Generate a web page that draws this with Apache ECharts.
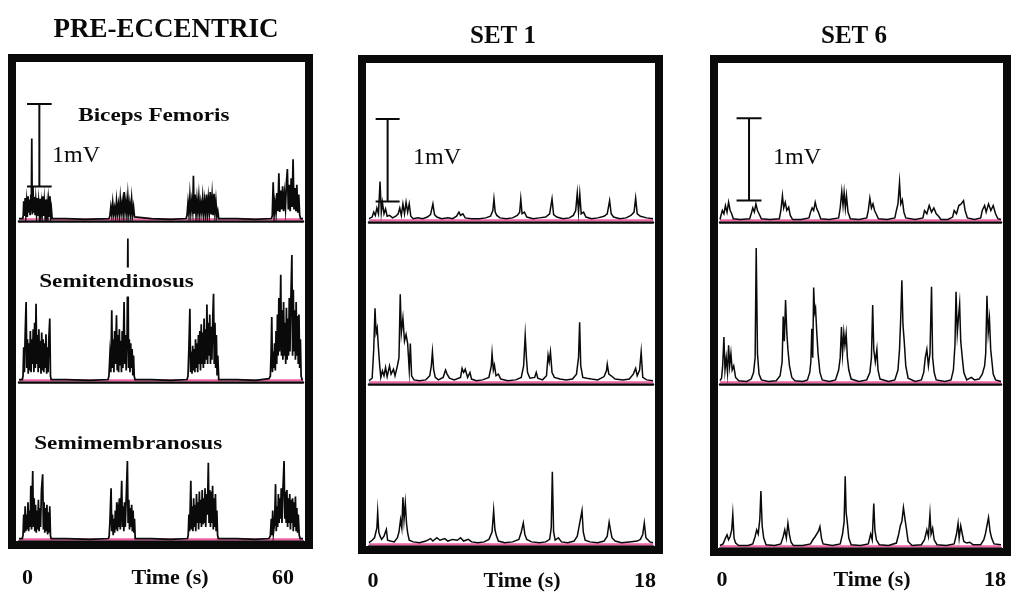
<!DOCTYPE html>
<html>
<head>
<meta charset="utf-8">
<script src="https://cdn.jsdelivr.net/npm/echarts/dist/echarts.min.js"></script>
<style>
  html, body { margin: 0; padding: 0; background: #ffffff; }
  #chart { width: 1011px; height: 593px; }
</style>
</head>
<body>
<div id="chart"></div>
<script>
// ---- Text ----
const panelTitles = ['PRE-ECCENTRIC', 'SET 1', 'SET 6'];
const muscles = ['Biceps Femoris', 'Semitendinosus', 'Semimembranosus'];
const timeTicks = [['0', '60'], ['0', '18'], ['0', '18']];
const timeAxisName = 'Time (s)';
const scaleLabel = '1mV';

// ---- Time span of each recording (s) and the calibration bar (mV) ----
const timeMax = [60, 18, 18];
const scaleBarMv = 1;

// ---- Rectified EMG traces: [time (s), amplitude (mV)] ----
// Pre-eccentric, Biceps Femoris
const pre_bf = [
  [0,0.01],[0.8,0.01],
  [0.9,0.05],[1.0,0.22],[1.15,0.04],[1.3,0.26],[1.45,0.06],[1.6,0.2],[1.75,0.03],[1.9,0.28],[2.05,0.08],[2.2,0.24],[2.35,0.05],[2.5,0.3],[2.6,0.1],[2.7,0.98],[2.8,0.06],[2.95,0.4],[3.1,0.08],[3.25,0.27],[3.4,0.05],[3.55,0.22],[3.7,0.07],[3.85,0.26],[4.0,0.04],[4.15,0.2],[4.3,0.06],[4.45,0.25],[4.6,0.05],[4.75,0.19],[4.9,0.08],[5.05,0.28],[5.2,0.04],[5.35,0.21],[5.5,0.06],[5.65,0.24],[5.8,0.05],[5.95,0.18],[6.1,0.04],[6.25,0.2],[6.4,0.03],[6.55,0.28],[6.7,0.04],[6.85,0.12],[7.0,0.01],
  [10,0.01],[14,0.0],[19.0,0.01],
  [19.2,0.04],[19.4,0.15],[19.6,0.05],[19.8,0.2],[20.0,0.06],[20.2,0.14],[20.4,0.04],[20.6,0.22],[20.8,0.07],[21.0,0.18],[21.2,0.05],[21.4,0.25],[21.6,0.08],[21.8,0.2],[22.0,0.06],[22.2,0.33],[22.4,0.09],[22.6,0.22],[22.8,0.05],[23.0,0.27],[23.2,0.07],[23.4,0.19],[23.6,0.05],[23.8,0.24],[24.0,0.06],[24.2,0.15],[24.4,0.03],[24.6,0.01],
  [28,0.01],[32,0.0],[35.3,0.01],
  [35.5,0.05],[35.7,0.2],[35.9,0.06],[36.1,0.28],[36.3,0.08],[36.5,0.22],[36.7,0.1],[36.85,0.53],[37.0,0.07],[37.2,0.3],[37.4,0.05],[37.6,0.24],[37.8,0.08],[38.0,0.27],[38.2,0.06],[38.4,0.2],[38.6,0.09],[38.8,0.26],[39.0,0.05],[39.2,0.22],[39.4,0.07],[39.6,0.3],[39.8,0.06],[40.0,0.25],[40.2,0.08],[40.4,0.33],[40.6,0.06],[40.8,0.28],[41.0,0.05],[41.2,0.31],[41.4,0.07],[41.6,0.22],[41.8,0.04],[42.0,0.1],[42.2,0.01],
  [46,0.01],[50,0.0],[53.3,0.01],
  [53.5,0.04],[53.7,0.45],[53.9,0.05],[54.1,0.2],[54.3,0.08],[54.5,0.32],[54.7,0.1],[54.9,0.56],[55.1,0.09],[55.3,0.35],[55.5,0.12],[55.7,0.4],[55.9,0.1],[56.1,0.3],[56.3,0.14],[56.5,0.45],[56.7,0.61],[56.9,0.12],[57.1,0.42],[57.3,0.1],[57.5,0.5],[57.7,0.15],[57.9,0.73],[58.1,0.12],[58.3,0.38],[58.5,0.1],[58.7,0.42],[58.9,0.08],[59.1,0.3],[59.3,0.05],[59.5,0.01],[60,0.01]
];
// Pre-eccentric, Semitendinosus
const pre_st = [
  [0,0.01],[0.7,0.01],
  [0.85,0.05],[1.0,0.4],[1.15,0.1],[1.3,0.55],[1.5,0.95],[1.65,0.15],[1.8,0.5],[1.95,0.08],[2.1,0.45],[2.25,0.12],[2.4,0.6],[2.55,0.1],[2.7,0.5],[2.85,0.2],[3.0,0.62],[3.15,0.1],[3.3,0.7],[3.45,0.15],[3.6,0.93],[3.75,0.2],[3.9,0.55],[4.05,0.1],[4.2,0.62],[4.35,0.15],[4.5,0.48],[4.65,0.08],[4.8,0.58],[4.95,0.12],[5.1,0.5],[5.25,0.1],[5.4,0.45],[5.55,0.15],[5.7,0.56],[5.85,0.08],[6.0,0.4],[6.15,0.1],[6.3,0.5],[6.5,0.75],[6.65,0.05],[6.8,0.01],
  [10,0.01],[15,0.0],[18.8,0.01],
  [19.0,0.05],[19.2,0.3],[19.4,0.1],[19.6,0.85],[19.75,0.15],[19.9,0.5],[20.05,0.1],[20.2,0.6],[20.35,0.2],[20.6,0.79],[20.75,0.12],[20.9,0.55],[21.05,0.1],[21.2,0.62],[21.35,0.18],[21.5,0.48],[21.65,0.1],[21.8,0.6],[21.95,0.15],[22.2,0.95],[22.35,0.2],[22.5,0.55],[22.65,0.12],[22.85,0.6],[23.0,1.72],[23.15,0.15],[23.3,0.5],[23.45,0.1],[23.6,0.45],[23.75,0.15],[23.9,0.38],[24.05,0.06],[24.2,0.3],[24.35,0.05],[24.5,0.01],
  [28,0.01],[32,0.0],[35.5,0.01],
  [35.7,0.05],[35.9,0.4],[36.1,0.87],[36.25,0.1],[36.4,0.35],[36.55,0.08],[36.7,0.42],[36.85,0.12],[37.0,0.38],[37.15,0.1],[37.3,0.5],[37.45,0.15],[37.6,0.45],[37.75,0.1],[37.9,0.55],[38.05,0.2],[38.2,0.6],[38.35,0.12],[38.5,0.68],[38.65,0.2],[38.8,0.58],[38.95,0.15],[39.1,0.75],[39.25,0.2],[39.4,0.62],[39.55,0.25],[39.7,0.92],[39.85,0.2],[40.0,0.7],[40.15,0.3],[40.3,0.8],[40.45,0.2],[40.6,0.65],[40.75,0.25],[40.95,0.78],[41.1,1.05],[41.25,0.2],[41.4,0.7],[41.55,0.15],[41.7,0.55],[41.85,0.06],[42.0,0.3],[42.2,0.01],
  [46,0.01],[50,0.0],[52.8,0.02],
  [53.1,0.05],[53.25,0.3],[53.4,0.77],[53.55,0.1],[53.7,0.35],[53.85,0.15],[54.0,0.45],[54.15,0.12],[54.3,0.6],[54.45,0.2],[54.6,0.8],[54.75,0.3],[54.9,1.0],[55.05,0.35],[55.3,1.28],[55.45,0.3],[55.6,0.85],[55.75,0.25],[55.9,0.95],[56.05,0.3],[56.2,0.7],[56.35,0.2],[56.5,0.88],[56.65,0.25],[56.8,0.75],[56.95,0.3],[57.1,1.0],[57.25,0.35],[57.4,0.9],[57.65,1.52],[57.8,0.3],[57.95,1.1],[58.1,0.35],[58.25,0.85],[58.4,0.25],[58.55,0.95],[58.7,0.3],[58.85,0.78],[59.0,0.2],[59.15,0.8],[59.3,0.15],[59.45,0.5],[59.6,0.05],[59.8,0.01],[60,0.01]
];
// Pre-eccentric, Semimembranosus
const pre_sm = [
  [0,0.01],[0.7,0.01],
  [0.85,0.05],[1.0,0.3],[1.15,0.08],[1.3,0.4],[1.45,0.1],[1.6,0.3],[1.75,0.12],[1.9,0.45],[2.05,0.1],[2.2,0.35],[2.35,0.15],[2.5,0.65],[2.65,0.12],[2.9,0.83],[3.05,0.15],[3.2,0.5],[3.35,0.1],[3.5,0.42],[3.65,0.08],[3.8,0.35],[3.95,0.12],[4.1,0.48],[4.25,0.1],[4.4,0.38],[4.55,0.15],[4.75,0.6],[5.0,0.79],[5.15,0.12],[5.3,0.45],[5.45,0.08],[5.6,0.38],[5.75,0.1],[5.9,0.42],[6.05,0.06],[6.2,0.33],[6.35,0.08],[6.5,0.4],[6.65,0.04],[6.8,0.01],
  [10,0.01],[15,0.0],[18.9,0.01],
  [19.05,0.04],[19.2,0.2],[19.45,0.62],[19.6,0.1],[19.75,0.3],[19.9,0.05],[20.05,0.25],[20.2,0.08],[20.35,0.35],[20.5,0.12],[20.65,0.45],[20.8,0.1],[20.95,0.3],[21.1,0.15],[21.25,0.5],[21.4,0.12],[21.7,0.71],[21.85,0.15],[22.0,0.4],[22.15,0.1],[22.3,0.45],[22.45,0.15],[22.65,0.5],[22.9,0.95],[23.05,0.2],[23.2,0.48],[23.35,0.12],[23.5,0.38],[23.65,0.15],[23.8,0.42],[23.95,0.1],[24.1,0.35],[24.25,0.08],[24.4,0.25],[24.55,0.01],
  [28,0.01],[32,0.0],[35.6,0.01],
  [35.75,0.05],[35.9,0.3],[36.05,0.1],[36.3,0.71],[36.45,0.12],[36.6,0.4],[36.75,0.1],[36.9,0.5],[37.05,0.15],[37.2,0.42],[37.35,0.1],[37.5,0.55],[37.65,0.2],[37.8,0.45],[37.95,0.12],[38.1,0.58],[38.25,0.2],[38.4,0.48],[38.55,0.15],[38.7,0.6],[38.85,0.18],[39.0,0.5],[39.15,0.2],[39.3,0.62],[39.45,0.15],[39.6,0.55],[39.8,0.3],[40.0,0.93],[40.15,0.2],[40.3,0.6],[40.45,0.15],[40.6,0.58],[40.75,0.2],[40.9,0.65],[41.05,0.12],[41.2,0.5],[41.35,0.15],[41.5,0.55],[41.65,0.1],[41.8,0.35],[41.95,0.05],[42.1,0.01],
  [46,0.01],[50,0.0],[52.8,0.01],
  [53.1,0.04],[53.3,0.25],[53.45,0.05],[53.6,0.35],[53.75,0.08],[54.0,0.2],[54.2,0.67],[54.35,0.1],[54.5,0.4],[54.65,0.15],[54.8,0.55],[54.95,0.2],[55.1,0.5],[55.25,0.25],[55.4,0.62],[55.55,0.2],[55.75,0.6],[56.0,0.95],[56.15,0.25],[56.3,0.58],[56.45,0.2],[56.6,0.6],[56.75,0.15],[56.9,0.5],[57.05,0.2],[57.2,0.55],[57.35,0.12],[57.5,0.48],[57.65,0.2],[57.8,0.5],[57.95,0.1],[58.1,0.45],[58.25,0.15],[58.4,0.52],[58.55,0.1],[58.7,0.38],[58.85,0.08],[59.0,0.3],[59.2,0.05],[59.4,0.01],[60,0.01]
];
// Set 1, Biceps Femoris
const s1_bf = [
  [0,0.02],[0.2,0.04],[0.3,0.1],[0.4,0.06],[0.5,0.15],[0.6,0.08],[0.7,0.47],[0.78,0.1],[0.85,0.22],[0.95,0.08],[1.05,0.14],[1.15,0.05],[1.3,0.06],[1.5,0.03],[1.7,0.05],[1.85,0.08],[1.95,0.15],[2.05,0.06],[2.15,0.2],[2.25,0.08],[2.35,0.22],[2.45,0.1],[2.55,0.2],[2.65,0.05],[2.8,0.02],[3.1,0.03],[3.4,0.02],[3.7,0.04],[3.9,0.07],[4.05,0.2],[4.15,0.07],[4.3,0.04],[4.6,0.02],[5.0,0.03],[5.3,0.02],[5.55,0.05],[5.7,0.1],[5.8,0.06],[5.95,0.08],[6.1,0.03],[6.5,0.02],[7.0,0.02],[7.4,0.03],[7.7,0.05],[7.85,0.12],[7.92,0.26],[8.0,0.1],[8.1,0.06],[8.3,0.03],[8.7,0.02],[9.1,0.03],[9.4,0.06],[9.55,0.1],[9.62,0.26],[9.7,0.08],[9.85,0.1],[10.0,0.04],[10.4,0.02],[10.8,0.03],[11.2,0.04],[11.45,0.08],[11.6,0.26],[11.7,0.07],[11.9,0.04],[12.3,0.02],[12.7,0.03],[12.95,0.06],[13.1,0.12],[13.2,0.33],[13.28,0.1],[13.36,0.32],[13.45,0.08],[13.6,0.1],[13.75,0.04],[14.1,0.02],[14.5,0.03],[14.9,0.05],[15.1,0.08],[15.25,0.24],[15.35,0.08],[15.5,0.04],[15.9,0.02],[16.3,0.03],[16.6,0.06],[16.8,0.1],[16.9,0.27],[17.0,0.08],[17.2,0.05],[17.6,0.03],[18,0.02]
];
// Set 1, Semitendinosus
const s1_st = [
  [0,0.02],[0.2,0.05],[0.3,0.4],[0.38,0.9],[0.45,0.6],[0.52,0.66],[0.6,0.41],[0.68,0.2],[0.75,0.06],[0.85,0.14],[0.95,0.08],[1.05,0.18],[1.15,0.07],[1.3,0.2],[1.4,0.1],[1.55,0.16],[1.65,0.08],[1.8,0.2],[1.9,0.3],[1.98,1.07],[2.05,0.6],[2.15,0.78],[2.25,0.5],[2.35,0.58],[2.45,0.47],[2.55,0.15],[2.62,0.47],[2.7,0.08],[2.85,0.03],[3.2,0.02],[3.6,0.03],[3.85,0.08],[3.95,0.2],[4.02,0.37],[4.1,0.15],[4.2,0.06],[4.4,0.03],[4.7,0.06],[4.85,0.15],[4.95,0.1],[5.1,0.05],[5.4,0.03],[5.8,0.06],[5.9,0.17],[6.0,0.12],[6.1,0.16],[6.25,0.06],[6.4,0.12],[6.5,0.04],[6.8,0.02],[7.2,0.03],[7.6,0.06],[7.75,0.2],[7.8,0.35],[7.88,0.15],[7.95,0.21],[8.05,0.08],[8.2,0.1],[8.35,0.04],[8.8,0.02],[9.3,0.03],[9.65,0.06],[9.8,0.2],[9.9,0.57],[9.98,0.29],[10.05,0.12],[10.2,0.05],[10.5,0.06],[10.6,0.12],[10.7,0.05],[11.0,0.03],[11.25,0.08],[11.35,0.33],[11.42,0.25],[11.5,0.37],[11.6,0.12],[11.75,0.06],[12.1,0.04],[12.5,0.03],[12.9,0.04],[13.15,0.1],[13.28,0.3],[13.35,0.73],[13.42,0.2],[13.55,0.06],[13.8,0.05],[14.1,0.04],[14.5,0.03],[14.9,0.07],[15.05,0.14],[15.1,0.22],[15.2,0.1],[15.35,0.08],[15.6,0.04],[16.1,0.03],[16.5,0.04],[16.75,0.1],[16.9,0.17],[17.0,0.08],[17.15,0.15],[17.25,0.37],[17.35,0.06],[17.6,0.03],[18,0.02]
];
// Set 1, Semimembranosus
const s1_sm = [
  [0,0.02],[0.2,0.05],[0.35,0.08],[0.5,0.2],[0.55,0.39],[0.62,0.15],[0.7,0.1],[0.8,0.06],[0.95,0.1],[1.05,0.08],[1.1,0.18],[1.18,0.05],[1.35,0.04],[1.6,0.03],[1.8,0.08],[1.9,0.15],[2.0,0.3],[2.08,0.2],[2.15,0.57],[2.22,0.3],[2.3,0.5],[2.38,0.25],[2.45,0.14],[2.55,0.05],[2.8,0.03],[3.2,0.02],[3.6,0.04],[3.9,0.07],[4.05,0.04],[4.3,0.08],[4.5,0.05],[4.8,0.07],[5.0,0.04],[5.3,0.06],[5.6,0.05],[5.8,0.08],[6.0,0.04],[6.3,0.06],[6.5,0.03],[6.9,0.02],[7.3,0.03],[7.6,0.06],[7.8,0.15],[7.9,0.41],[7.98,0.18],[8.08,0.1],[8.2,0.04],[8.6,0.02],[9.1,0.03],[9.5,0.06],[9.65,0.15],[9.78,0.26],[9.88,0.12],[10.0,0.06],[10.3,0.03],[10.8,0.02],[11.2,0.03],[11.45,0.06],[11.55,0.2],[11.62,0.88],[11.7,0.15],[11.8,0.05],[12.0,0.08],[12.2,0.03],[12.6,0.02],[13.0,0.04],[13.2,0.1],[13.3,0.2],[13.4,0.22],[13.5,0.41],[13.58,0.15],[13.7,0.05],[14.0,0.03],[14.5,0.02],[14.9,0.04],[15.1,0.1],[15.22,0.27],[15.3,0.18],[15.4,0.08],[15.6,0.04],[16.0,0.02],[16.5,0.03],[17.0,0.04],[17.2,0.06],[17.35,0.12],[17.45,0.26],[17.55,0.08],[17.8,0.03],[18,0.02]
];
// Set 6, Biceps Femoris
const s6_bf = [
  [0,0.01],[0.05,0.05],[0.15,0.12],[0.25,0.08],[0.35,0.18],[0.45,0.1],[0.55,0.22],[0.65,0.12],[0.75,0.08],[0.85,0.02],[1.3,0.01],[1.9,0.02],[2.0,0.08],[2.1,0.15],[2.2,0.1],[2.3,0.2],[2.4,0.12],[2.5,0.08],[2.65,0.02],[3.2,0.01],[3.8,0.02],[3.9,0.12],[4.0,0.3],[4.08,0.15],[4.18,0.22],[4.28,0.12],[4.4,0.16],[4.5,0.06],[4.65,0.01],[5.2,0.01],[5.7,0.03],[5.8,0.1],[5.9,0.15],[6.0,0.12],[6.1,0.22],[6.2,0.14],[6.3,0.1],[6.45,0.02],[7.0,0.01],[7.6,0.03],[7.7,0.15],[7.8,0.35],[7.88,0.18],[7.95,0.34],[8.03,0.15],[8.1,0.3],[8.2,0.1],[8.35,0.02],[8.9,0.01],[9.4,0.03],[9.5,0.12],[9.6,0.27],[9.7,0.15],[9.8,0.2],[9.9,0.12],[10.0,0.08],[10.15,0.02],[10.7,0.01],[11.2,0.03],[11.3,0.12],[11.4,0.2],[11.5,0.46],[11.58,0.2],[11.68,0.25],[11.78,0.1],[11.9,0.03],[12.5,0.01],[13.0,0.03],[13.1,0.12],[13.25,0.08],[13.4,0.18],[13.55,0.1],[13.7,0.15],[13.85,0.08],[14.0,0.05],[14.15,0.01],[14.6,0.01],[14.9,0.04],[15.0,0.12],[15.15,0.08],[15.3,0.18],[15.45,0.2],[15.6,0.24],[15.7,0.12],[15.85,0.03],[16.3,0.01],[16.7,0.03],[16.8,0.12],[16.95,0.18],[17.05,0.1],[17.2,0.2],[17.35,0.12],[17.5,0.18],[17.65,0.08],[17.8,0.02],[18,0.01]
];
// Set 6, Semitendinosus
const s6_st = [
  [0,0.02],[0.1,0.05],[0.17,0.2],[0.25,0.55],[0.32,0.15],[0.4,0.3],[0.48,0.12],[0.55,0.45],[0.62,0.2],[0.7,0.35],[0.78,0.15],[0.88,0.2],[1.0,0.06],[1.2,0.02],[1.7,0.01],[2.0,0.04],[2.15,0.12],[2.25,0.3],[2.32,1.63],[2.4,0.35],[2.5,0.1],[2.65,0.03],[3.1,0.01],[3.6,0.02],[3.85,0.08],[3.98,0.25],[4.05,0.8],[4.12,0.5],[4.2,1.0],[4.28,0.6],[4.35,0.4],[4.45,0.2],[4.6,0.06],[4.8,0.02],[5.3,0.01],[5.6,0.03],[5.75,0.12],[5.82,0.25],[5.88,0.65],[5.94,0.3],[6.0,1.15],[6.06,0.85],[6.12,0.9],[6.2,0.6],[6.28,0.35],[6.4,0.12],[6.55,0.03],[7.0,0.01],[7.4,0.03],[7.6,0.15],[7.7,0.3],[7.78,0.67],[7.85,0.35],[7.93,0.6],[8.0,0.45],[8.08,0.59],[8.16,0.3],[8.25,0.15],[8.4,0.04],[8.9,0.01],[9.4,0.03],[9.6,0.12],[9.7,0.3],[9.78,0.94],[9.85,0.4],[9.95,0.25],[10.05,0.4],[10.12,0.15],[10.25,0.04],[10.8,0.01],[11.2,0.03],[11.4,0.15],[11.5,0.4],[11.58,0.8],[11.65,1.24],[11.72,0.7],[11.8,0.5],[11.9,0.2],[12.05,0.05],[12.5,0.01],[12.9,0.03],[13.05,0.12],[13.15,0.3],[13.25,0.4],[13.35,0.2],[13.45,0.35],[13.55,1.16],[13.62,0.3],[13.72,0.12],[13.85,0.03],[14.4,0.01],[14.8,0.03],[14.95,0.15],[15.05,0.45],[15.12,1.1],[15.2,0.6],[15.28,0.8],[15.35,0.95],[15.42,0.5],[15.52,0.3],[15.62,0.12],[15.8,0.03],[16.1,0.06],[16.3,0.03],[16.6,0.04],[16.8,0.1],[16.95,0.2],[17.02,0.35],[17.1,1.05],[17.18,0.6],[17.26,0.77],[17.34,0.4],[17.42,0.25],[17.5,0.1],[17.65,0.03],[18,0.01]
];
// Set 6, Semimembranosus
const s6_sm = [
  [0,0.01],[0.2,0.03],[0.35,0.1],[0.45,0.14],[0.55,0.08],[0.65,0.12],[0.75,0.2],[0.82,0.39],[0.9,0.1],[1.0,0.04],[1.2,0.01],[1.8,0.01],[2.1,0.03],[2.25,0.12],[2.35,0.2],[2.45,0.15],[2.55,0.33],[2.62,0.67],[2.7,0.25],[2.8,0.1],[2.95,0.02],[3.5,0.01],[3.9,0.03],[4.05,0.12],[4.15,0.2],[4.25,0.1],[4.35,0.28],[4.45,0.14],[4.55,0.05],[4.7,0.01],[5.3,0.01],[5.8,0.03],[5.95,0.08],[6.1,0.12],[6.2,0.1],[6.3,0.18],[6.4,0.24],[6.5,0.1],[6.6,0.03],[7.2,0.01],[7.7,0.03],[7.85,0.15],[7.95,0.3],[8.02,0.85],[8.08,0.41],[8.15,0.3],[8.25,0.1],[8.4,0.02],[9.0,0.01],[9.5,0.03],[9.65,0.15],[9.75,0.08],[9.85,0.52],[9.92,0.2],[10.02,0.08],[10.2,0.02],[10.8,0.01],[11.3,0.04],[11.45,0.15],[11.55,0.25],[11.65,0.3],[11.75,0.47],[11.85,0.33],[11.95,0.2],[12.05,0.06],[12.3,0.01],[12.9,0.02],[13.1,0.08],[13.25,0.2],[13.35,0.12],[13.45,0.39],[13.52,0.15],[13.62,0.22],[13.72,0.08],[13.9,0.02],[14.5,0.01],[15.0,0.03],[15.15,0.15],[15.25,0.28],[15.32,0.1],[15.42,0.25],[15.52,0.15],[15.62,0.06],[15.8,0.04],[16.0,0.05],[16.2,0.02],[16.7,0.02],[16.9,0.08],[17.0,0.15],[17.1,0.25],[17.2,0.35],[17.3,0.18],[17.4,0.1],[17.55,0.03],[18,0.02]
];

const traces = [
  [pre_bf, pre_st, pre_sm],
  [s1_bf, s1_st, s1_sm],
  [s6_bf, s6_st, s6_sm]
];

// ---- Layout (pixels) ----
const PX_PER_MV = 82.4;
const Y_MIN = -0.02;
const FONT = '"Liberation Serif", "Times New Roman", serif';
const INK = '#0a0a0a';
const PINK = '#ef62a3';

const layout = [
  { box: [12, 58, 297, 487], plotLeft: 19, plotWidth: 284, rows: [63, 221, 382, 541],
    titleX: 166, titleY: 30, titleSize: 27, traceWidth: 1.75,
    bar: { t: 4.3, half: 2.6, lo: 0.40 }, barLabel: [52, 156],
    ticksX: [27.5, 283], nameX: 170, ticksY: 578 },
  { box: [362, 59, 297, 491], plotLeft: 369, plotWidth: 284, rows: [63, 222, 384, 546],
    titleX: 503, titleY: 37, titleSize: 25, traceWidth: 1.5,
    bar: { t: 1.18, half: 0.76, lo: 0.23 }, barLabel: [413, 158],
    ticksX: [373, 645], nameX: 522, ticksY: 581 },
  { box: [714, 59, 293, 493], plotLeft: 720, plotWidth: 281, rows: [63, 222, 384, 548],
    titleX: 854, titleY: 37, titleSize: 25, traceWidth: 1.5,
    bar: { t: 1.86, half: 0.8, lo: 0.24 }, barLabel: [773, 158],
    ticksX: [722, 995], nameX: 872, ticksY: 580 }
];
// Muscle names sit in the first panel only
const muscleLabelPos = [[77, 116], [38, 282], [33, 444]];

const grid = [], xAxis = [], yAxis = [], series = [], graphic = [];

layout.forEach((L, p) => {
  for (let r = 0; r < 3; r++) {
    const idx = p * 3 + r;
    const top = L.rows[r];
    const h = L.rows[r + 1] - L.rows[r];
    grid.push({ left: L.plotLeft, width: L.plotWidth, top: top, height: h });
    xAxis.push({
      type: 'value', gridIndex: idx, min: 0, max: timeMax[p],
      axisLine: { show: true, onZero: false, lineStyle: { color: INK, width: 2.5 } },
      axisTick: { show: false }, axisLabel: { show: false }, splitLine: { show: false }
    });
    yAxis.push({
      type: 'value', gridIndex: idx, min: Y_MIN, max: Y_MIN + h / PX_PER_MV, show: false
    });
    // zero-level baseline
    series.push({
      type: 'line', xAxisIndex: idx, yAxisIndex: idx, silent: true, z: 2,
      symbol: 'none', smooth: false, data: [[0, 0], [timeMax[p], 0]],
      lineStyle: { color: PINK, width: 2 }
    });
    // EMG trace
    series.push({
      type: 'line', xAxisIndex: idx, yAxisIndex: idx, silent: true, z: 3,
      symbol: 'none', smooth: false, data: traces[p][r],
      lineStyle: { color: INK, width: L.traceWidth, join: 'miter', miterLimit: 20 }
    });
    if (r === 0) {
      // 1 mV calibration bar with end caps
      const b = L.bar, hi = b.lo + scaleBarMv;
      series.push({
        type: 'line', xAxisIndex: idx, yAxisIndex: idx, silent: true, z: 4,
        symbol: 'none', smooth: false,
        data: [[b.t - b.half, hi], [b.t + b.half, hi], [b.t, hi], [b.t, b.lo],
               [b.t - b.half, b.lo], [b.t + b.half, b.lo]],
        lineStyle: { color: INK, width: 2 }
      });
    }
  }

  // panel frame
  graphic.push({
    type: 'rect', z: 20, silent: true,
    shape: { x: L.box[0], y: L.box[1], width: L.box[2], height: L.box[3] },
    style: { fill: 'none', stroke: INK, lineWidth: 8 }
  });
  // panel title
  graphic.push({
    type: 'text', z: 20, x: L.titleX, y: L.titleY,
    style: { text: panelTitles[p], font: 'bold ' + L.titleSize + 'px ' + FONT,
             fill: INK, textAlign: 'center', textVerticalAlign: 'middle' }
  });
  // calibration label
  graphic.push({
    type: 'text', z: 20, x: L.barLabel[0], y: L.barLabel[1],
    style: { text: scaleLabel, font: '24px ' + FONT, fill: INK,
             textAlign: 'left', textVerticalAlign: 'middle' }
  });
  // time axis end labels and name
  graphic.push({
    type: 'text', z: 20, x: L.ticksX[0], y: L.ticksY,
    style: { text: timeTicks[p][0], font: 'bold 22px ' + FONT, fill: INK,
             textAlign: 'center', textVerticalAlign: 'middle' }
  });
  graphic.push({
    type: 'text', z: 20, x: L.ticksX[1], y: L.ticksY,
    style: { text: timeTicks[p][1], font: 'bold 22px ' + FONT, fill: INK,
             textAlign: 'center', textVerticalAlign: 'middle' }
  });
  graphic.push({
    type: 'text', z: 20, x: L.nameX, y: L.ticksY,
    style: { text: timeAxisName, font: 'bold 22px ' + FONT, fill: INK,
             textAlign: 'center', textVerticalAlign: 'middle' }
  });
});

muscles.forEach((m, i) => {
  graphic.push({
    type: 'text', z: 15, x: muscleLabelPos[i][0], y: muscleLabelPos[i][1], scaleX: 1.22,
    style: { text: m, font: 'bold 19px ' + FONT, fill: INK,
             textAlign: 'left', textVerticalAlign: 'middle',
             backgroundColor: '#ffffff', padding: [5, 1, 5, 1] }
  });
});

const chart = echarts.init(document.getElementById('chart'), null, { renderer: 'canvas' });
chart.setOption({
  backgroundColor: '#ffffff',
  animation: false,
  grid: grid,
  xAxis: xAxis,
  yAxis: yAxis,
  series: series,
  graphic: graphic
});
</script>
</body>
</html>
